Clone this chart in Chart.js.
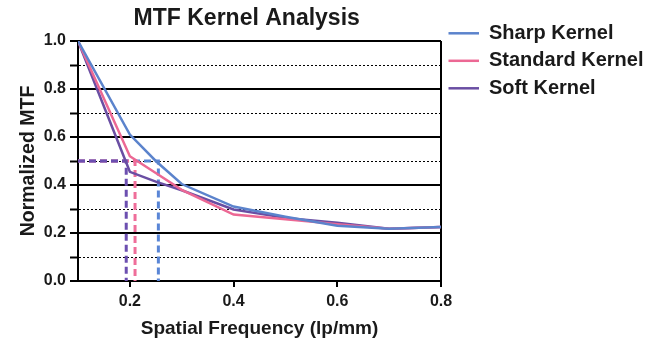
<!DOCTYPE html>
<html>
<head>
<meta charset="utf-8">
<script src="https://cdn.jsdelivr.net/npm/chart.js@4"></script>
<style>
  html, body { margin: 0; padding: 0; background: #fff; }
  #wrap { width: 645px; height: 338px; }
</style>
</head>
<body>
<div id="wrap"><canvas id="c" width="645" height="338"></canvas></div>
<script>
// ---- data ----
const freq      = [0.1, 0.2, 0.25, 0.3, 0.4, 0.5, 0.6, 0.7, 0.8];
const sharp     = [1.0, 0.61, 0.50, 0.404, 0.31, 0.268, 0.23, 0.218, 0.225];
const standard  = [1.0, 0.52, 0.45, 0.38, 0.277, 0.257, 0.237, 0.218, 0.225];
const soft      = [1.0, 0.455, 0.414, 0.378, 0.298, 0.263, 0.243, 0.218, 0.225];
const seriesNames = ['Sharp Kernel', 'Standard Kernel', 'Soft Kernel'];
const mtf50Freq = [0.255, 0.21, 0.193];   // where each curve crosses MTF = 0.5
const mtfLevel = 0.5;
const xTickValues = [0.2, 0.4, 0.6, 0.8];
const xMin = 0.1, xMax = 0.8, yMin = 0, yMax = 1.0, yStep = 0.1;

const colors = ['#5b83cc', '#ec6894', '#6a4ea3'];
const dashColors = ['#5a86d6', '#ef6e9a', '#6c4fb0'];

const pts = (ys) => freq.map((x, i) => ({x, y: ys[i]}));
const curves = [sharp, standard, soft];

const datasets = curves.map((ys, i) => ({
  label: seriesNames[i],
  data: pts(ys),
  borderColor: colors[i],
  backgroundColor: colors[i],
  borderWidth: 2.5,
  pointRadius: 0,
  tension: 0,
  order: 0
}));
mtf50Freq.forEach((xc, i) => {
  datasets.push({
    label: seriesNames[i] + ' MTF50',
    data: [{x: xMin, y: mtfLevel}, {x: xc, y: mtfLevel}, {x: xc, y: yMin}],
    borderColor: dashColors[i],
    backgroundColor: dashColors[i],
    borderWidth: 3,
    borderDash: [7, 4],
    pointRadius: 0,
    tension: 0,
    order: 3 - i
  });
});

Chart.defaults.font.family = "'Liberation Sans', Arial, sans-serif";
Chart.defaults.color = '#1a1a1a';

const isMinor = (v) => Math.round(v * 10) % 2 === 1;

new Chart(document.getElementById('c'), {
  type: 'line',
  data: { datasets },
  options: {
    responsive: false,
    animation: false,
    devicePixelRatio: 1,
    layout: { padding: 0 },
    plugins: {
      title: {
        display: true,
        text: 'MTF Kernel Analysis    ',
        fullSize: false,
        font: { size: 23, weight: 'bold', lineHeight: 1.2 },
        color: '#1a1a1a',
        padding: { top: 5, bottom: 8.4 }
      },
      legend: {
        position: 'right',
        align: 'start',
        maxWidth: 204,
        title: { display: true, text: ' ', font: { size: 10, lineHeight: 1.58 }, padding: 0 },
        labels: {
          boxWidth: 30.5,
          boxHeight: 2.5,
          padding: 7.5,
          color: '#1a1a1a',
          font: { size: 20, weight: 'bold' },
          filter: (item) => item.datasetIndex < 3,
          generateLabels: (chart) => Chart.defaults.plugins.legend.labels.generateLabels(chart)
            .map(it => Object.assign(it, { lineWidth: 0, fillStyle: it.strokeStyle }))
        }
      },
      tooltip: { enabled: false }
    },
    scales: {
      x: {
        type: 'linear',
        min: xMin,
        max: xMax,
        afterBuildTicks: (s) => { s.ticks = xTickValues.map(v => ({ value: v })); },
        afterFit: (s) => { s.height = 57; },
        ticks: {
          callback: (v) => Number(v).toFixed(1),
          font: { size: 16, weight: 'bold' },
          color: '#1a1a1a',
          padding: 5,
          maxRotation: 0
        },
        grid: {
          color: (ctx) => (ctx.tick && Math.abs(ctx.tick.value - xMax) < 1e-6) ? '#000' : 'rgba(0,0,0,0)',
          tickColor: '#000',
          lineWidth: 2,
          tickLength: 6,
          drawOnChartArea: true
        },
        border: { color: '#000', width: 2 },
        title: {
          display: true,
          text: 'Spatial Frequency (lp/mm)',
          font: { size: 19, weight: 'bold', lineHeight: 1 },
          color: '#1a1a1a',
          padding: { top: 0, bottom: 0 }
        }
      },
      y: {
        min: yMin,
        max: yMax,
        afterFit: (s) => { s.width = 78; },
        ticks: {
          stepSize: yStep,
          callback: (v) => isMinor(v) ? '' : Number(v).toFixed(1),
          font: { size: 16, weight: 'bold' },
          color: '#1a1a1a',
          padding: 4
        },
        grid: {
          color: '#000',
          tickColor: '#000',
          lineWidth: (ctx) => (ctx.tick && isMinor(ctx.tick.value)) ? 1 : 2,
          tickWidth: 2,
          tickLength: 8
        },
        border: {
          color: '#000',
          width: 2,
          dash: (ctx) => (ctx.tick && isMinor(ctx.tick.value)) ? [2, 2] : []
        },
        title: {
          display: true,
          text: 'Normalized MTF',
          font: { size: 19.5, weight: 'bold', lineHeight: 1 },
          color: '#1a1a1a',
          padding: { top: 18.5, bottom: 0 }
        }
      }
    }
  }
});
</script>
</body>
</html>
